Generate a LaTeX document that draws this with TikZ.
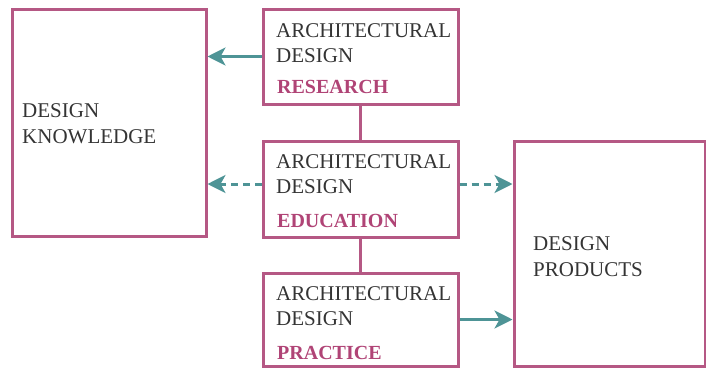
\documentclass[tikz,border=0pt]{standalone}
\usepackage{fontspec}
\setmainfont{Liberation Serif}
\usetikzlibrary{arrows.meta}
\definecolor{frame}{RGB}{181,88,132}
\definecolor{accent}{RGB}{176,68,118}
\definecolor{teal}{RGB}{78,148,150}
\definecolor{ink}{RGB}{52,52,52}
\begin{document}
\begin{tikzpicture}[x=1pt,y=-1pt,
  box/.style={draw=frame,line width=3pt,rectangle,inner sep=0pt},
  txt/.style={anchor=base west,inner sep=0pt,text=ink,font=\fontsize{21}{25}\selectfont},
  tag/.style={anchor=base west,inner sep=0pt,text=accent,font=\fontsize{20}{24}\selectfont\bfseries},
  arr/.style={draw=teal,line width=3pt,-{Stealth[length=18pt,width=18pt,inset=5pt]}},
  dasharr/.style={arr,dash pattern=on 7pt off 5pt}]
\useasboundingbox (0,0) rectangle (706,367);

% boxes
\node[box,minimum width=194pt,minimum height=227pt] (know) at (109,122.5) {};
\node[box,minimum width=195pt,minimum height=95pt]  (res)  at (360.5,56.5) {};
\node[box,minimum width=195pt,minimum height=96pt]  (edu)  at (360.5,189) {};
\node[box,minimum width=195pt,minimum height=93pt]  (prac) at (360.5,319.5) {};
\node[box,minimum width=191pt,minimum height=225pt] (prod) at (609.5,253.5) {};

% labels
\node[txt] (k1) at (22,117) {DESIGN};
\node[txt] (k2) at (22,143) {KNOWLEDGE};

\node[txt] (r1) at (276,37) {ARCHITECTURAL};
\node[txt] (r2) at (276,62) {DESIGN};
\node[tag] (r3) at (277,93) {RESEARCH};

\node[txt] (e1) at (276,168) {ARCHITECTURAL};
\node[txt] (e2) at (276,193) {DESIGN};
\node[tag] (e3) at (277,227) {EDUCATION};

\node[txt] (p1) at (276,300) {ARCHITECTURAL};
\node[txt] (p2) at (276,325) {DESIGN};
\node[tag] (p3) at (277,359) {PRACTICE};

\node[txt] (d1) at (533,250) {DESIGN};
\node[txt] (d2) at (533,276) {PRODUCTS};

% links between the design activities
\draw[frame,line width=3pt] (res.south) -- (edu.north);
\draw[frame,line width=3pt] (edu.south) -- (prac.north);

% flows
\draw[arr] (res.west) -- (res.west -| know.east);
\coordinate (em) at ([yshift=5pt]edu.west);
\coordinate (emr) at ([yshift=5pt]edu.east);
\draw[dasharr] (em) -- (em -| know.east);
\draw[dasharr] (emr) -- (emr -| prod.west);
\draw[arr] (prac.east) -- (prac.east -| prod.west);
\end{tikzpicture}
\end{document}
